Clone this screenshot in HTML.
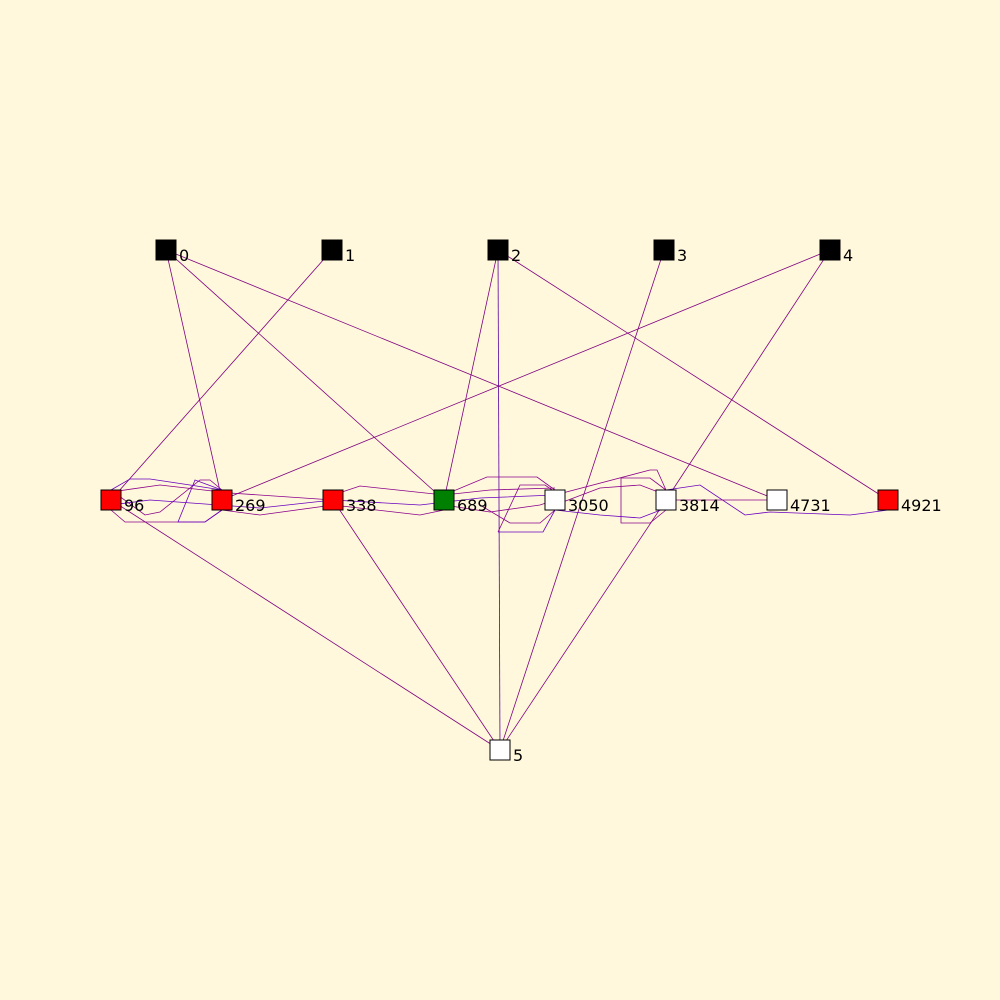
<!DOCTYPE html>
<html><head><meta charset="utf-8"><style>
html,body{margin:0;padding:0;background:#fff8dc;}
svg{display:block}
text{font-family:"DejaVu Sans","Liberation Sans",sans-serif;font-size:16px;fill:#000}
</style></head><body>
<svg id="g" width="1000" height="1000" viewBox="0 0 1000 1000">
<rect width="1000" height="1000" fill="#fff8dc"/>
<g id="edges" fill="none" stroke-width="0.8"></g>
<g id="nodes"></g>
</svg>
<script>
const nodeIds = ["0","1","2","3","4","96","269","338","689","3050","3814","4731","4921","5"];
const nodeX = [166,332,498,664,830,111,222,333,444,555,666,777,888,500];
const nodeY = [250,250,250,250,250,500,500,500,500,500,500,500,500,750];
const nodeFill = ["#000","#000","#000","#000","#000","#f00","#f00","#f00","#008000","#fff","#fff","#fff","#f00","#fff"];
const straightEdges = [["0","269"],["0","689"],["0","4731"],["1","96"],["2","689"],["2","5"],["2","4921"],["3","5"],["4","269"],["4","3814"],["96","5"],["338","5"],["3814","5"]];
const wiggly = [
 [[111,490],[130,479],[150,479],[190,485],[222,490]],
 [[111,510],[125,522],[150,522],[205,522],[222,510]],
 [[111,490],[145,515],[160,512],[200,480],[210,480],[222,490]],
 [[222,490],[195,480],[178,522],[205,522],[222,510]],
 [[111,492],[160,485],[230,493],[333,500]],
 [[222,510],[260,515],[333,505],[420,515],[444,510]],
 [[111,505],[150,500],[260,508],[333,500]],
 [[333,495],[360,486],[444,495],[487,477],[537,477],[555,490]],
 [[444,505],[490,512],[540,505],[555,500]],
 [[333,500],[420,505],[480,498],[555,495]],
 [[555,510],[540,523],[510,523],[480,505]],
 [[498,532],[520,485],[545,485],[555,492]],
 [[498,532],[543,532],[555,510]],
 [[666,490],[650,478],[621,478],[621,523],[650,523],[666,510]],
 [[555,495],[650,470],[657,470],[666,490]],
 [[666,490],[700,485],[745,515],[770,512],[850,515],[866,513],[888,510]],
 [[555,505],[600,488],[640,485],[666,495]],
 [[666,500],[777,500]],
 [[555,510],[600,515],[640,518],[666,508]],
 [[444,495],[490,490],[555,488]]
];
const NS="http://www.w3.org/2000/svg";
const eg=document.getElementById('edges'), ng=document.getElementById('nodes');
function idx(id){return nodeIds.indexOf(id);}
straightEdges.forEach(function(e,i){
 const a=idx(e[0]),b=idx(e[1]);
 const l=document.createElementNS(NS,'line');
 l.setAttribute('x1',nodeX[a]);l.setAttribute('y1',nodeY[a]);
 l.setAttribute('x2',nodeX[b]);l.setAttribute('y2',nodeY[b]);
 l.setAttribute('stroke', e[1]==="5"&&e[0]==="2" ? '#5a00a0' : '#800080');
 
 
 eg.appendChild(l);
});
wiggly.forEach(function(p,i){
 const pl=document.createElementNS(NS,'polyline');
 pl.setAttribute('points',p.map(function(q){return q.join(',');}).join(' '));
 pl.setAttribute('stroke', i%3===0 ? '#6a00c0' : '#8b008b');
 
 
 eg.appendChild(pl);
});
nodeIds.forEach(function(id,i){
 const r=document.createElementNS(NS,'rect');
 r.setAttribute('x',nodeX[i]-10);r.setAttribute('y',nodeY[i]-10);
 r.setAttribute('width',20);r.setAttribute('height',20);
 r.setAttribute('fill',nodeFill[i]);r.setAttribute('stroke','#000');
 
 
 ng.appendChild(r);
 const t=document.createElementNS(NS,'text');
 t.setAttribute('x',nodeX[i]+13);t.setAttribute('y',nodeY[i]+11);
 t.textContent=id;
 
 
 ng.appendChild(t);
});
</script>
</body></html>
